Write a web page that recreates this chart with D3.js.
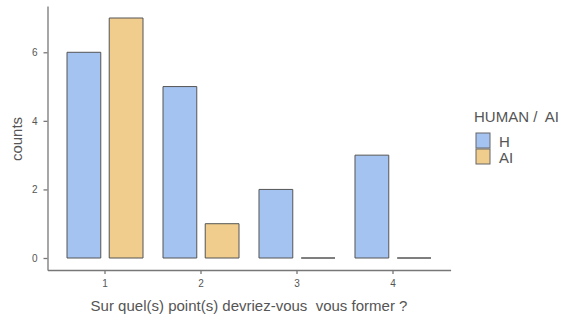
<!DOCTYPE html>
<html><head><meta charset="utf-8">
<script src="https://cdn.jsdelivr.net/npm/d3@7"></script>
<style>body{margin:0;background:#fff}svg{display:block;font-family:"Liberation Sans",Arial,sans-serif}</style>
</head><body><svg id="c" width="564" height="320"></svg>
<script>
const categories = ["1","2","3","4"];
const groups = ["H","AI"];
const valuesH = [6,5,2,3];
const valuesAI = [7,1,0,0];
const yTicks = [0,2,4,6];
const colors = {H:"#a5c3f0", AI:"#f0cd8c"};
const xTitle = "Sur quel(s) point(s) devriez-vous\u00a0 vous former ?";
const yTitle = "counts";
const legendTitle = "HUMAN /\u00a0 AI";

const svg = d3.select("#c");
const p = 20/96;
const x = d3.scaleBand().domain(categories).range([47.4,450.6]).paddingInner(p).paddingOuter(0.2042);
const xi = d3.scaleBand().domain(groups).range([0,x.bandwidth()]).paddingInner(0.2);
const y = d3.scaleLinear().domain([-0.35,7.35]).range([270,6]);

const data = [];
categories.forEach((c,i)=>{ data.push({c,g:"H",v:valuesH[i]}); data.push({c,g:"AI",v:valuesAI[i]}); });

svg.append("g").selectAll("path").data(data).join("path")
  .attr("d",d=>{
    const x0 = x(d.c)+xi(d.g), w = xi.bandwidth(), y0 = y(0), y1 = y(d.v);
    return `M${x0},${y0}V${y1}H${x0+w}V${y0}Z`;
  })
  .attr("fill",d=>colors[d.g]).attr("stroke","#555").attr("stroke-width",1);

const ax = svg.append("g").attr("transform","translate(0,270)")
  .call(d3.axisBottom(x).tickSize(4).tickSizeOuter(0).tickPadding(6));
const ay = svg.append("g").attr("transform","translate(47.5,0)")
  .call(d3.axisLeft(y).tickValues(yTicks).tickSize(4).tickSizeOuter(0).tickPadding(6));
[ax,ay].forEach(a=>{
  a.selectAll("path,line").attr("stroke","#777").attr("stroke-width",1.3);
  a.selectAll("text").attr("fill","#555").attr("font-size","10px").attr("font-family","Liberation Sans, Arial, sans-serif");
});

svg.append("text").attr("x",249).attr("y",311).attr("text-anchor","middle")
  .attr("font-size","15px").attr("fill","#555").text(xTitle);
svg.append("text").attr("transform","translate(22,139) rotate(-90)").attr("text-anchor","middle")
  .attr("font-size","15px").attr("fill","#555").text(yTitle);

const lg = svg.append("g");
lg.append("text").attr("x",474).attr("y",122).attr("font-size","15px").attr("fill","#555").text(legendTitle);
groups.forEach((g,i)=>{
  lg.append("rect").attr("x",476).attr("y",133+i*16).attr("width",14).attr("height",15)
    .attr("fill",colors[g]).attr("stroke","#666").attr("stroke-width",1);
  lg.append("text").attr("x",499).attr("y",147+i*16).attr("font-size","15px").attr("fill","#555").text(g);
});
</script></body></html>
